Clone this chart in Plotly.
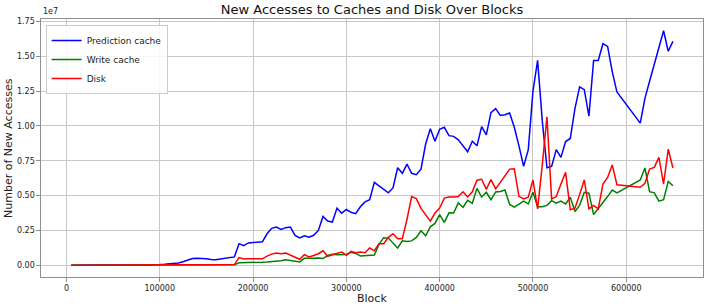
import plotly.graph_objects as go

# Block positions (5000-block steps; no samples between 590000 and 615000)
blocks = list(range(5000, 595000, 5000)) + list(range(615000, 655000, 5000))

# Values in units of 1e7 new accesses
prediction_cache = [
    0, 0, 0, 0, 0, 0, 0, 0, 0, 0,
    0, 0, 0, 0, 0, 0, 0, 0.002, 0.004, 0.005,
    0.007, 0.01, 0.012, 0.016, 0.025, 0.035, 0.048, 0.05, 0.05, 0.046,
    0.042, 0.04, 0.045, 0.05, 0.05, 0.06, 0.155, 0.14, 0.16, 0.162,
    0.165, 0.168, 0.226, 0.265, 0.274, 0.257, 0.27, 0.274, 0.214, 0.197,
    0.212, 0.202, 0.215, 0.25, 0.35, 0.317, 0.31, 0.41, 0.374, 0.40,
    0.38, 0.37, 0.42, 0.455, 0.47, 0.595, 0.57, 0.545, 0.52, 0.555,
    0.70, 0.66, 0.726, 0.66, 0.65, 0.69, 0.87, 0.98, 0.89, 0.976,
    0.99, 0.93, 0.925, 0.90, 0.857, 0.814, 0.89, 0.857, 0.995, 0.935,
    1.095, 1.124, 1.075, 1.08, 1.093, 0.99, 0.857, 0.71, 0.83, 1.25,
    1.47, 1.036, 0.70, 0.71, 0.83, 0.774, 0.888, 0.91, 1.124, 1.28,
    1.26, 1.07, 1.47, 1.47, 1.59, 1.57, 1.39, 1.243,
    1.02, 1.198, 1.32, 1.445, 1.56, 1.683, 1.536, 1.607,
]

write_cache = [
    0, 0, 0, 0, 0, 0, 0, 0, 0, 0,
    0, 0, 0, 0, 0, 0, 0, 0, 0, 0,
    0, 0, 0, 0, 0, 0, 0, 0, 0, 0,
    0, 0, 0, 0, 0, 0.003, 0.018, 0.018, 0.019, 0.019,
    0.02, 0.022, 0.024, 0.026, 0.029, 0.033, 0.04, 0.036, 0.03, 0.024,
    0.05, 0.048, 0.05, 0.052, 0.048, 0.07, 0.079, 0.076, 0.079, 0.078,
    0.093, 0.085, 0.067, 0.07, 0.071, 0.074, 0.15, 0.198, 0.195, 0.16,
    0.124, 0.175, 0.171, 0.175, 0.2, 0.248, 0.212, 0.276, 0.3, 0.364,
    0.308, 0.376, 0.375, 0.448, 0.415, 0.466, 0.445, 0.552, 0.49, 0.524,
    0.47, 0.526, 0.53, 0.54, 0.436, 0.417, 0.436, 0.46, 0.44, 0.524,
    0.42, 0.42, 0.43, 0.464, 0.445, 0.46, 0.44, 0.488, 0.386, 0.43,
    0.524, 0.517, 0.364, 0.405, 0.452, 0.493, 0.54, 0.52,
    0.612, 0.698, 0.528, 0.52, 0.46, 0.47, 0.602, 0.571,
]

disk = [
    0, 0, 0, 0, 0, 0, 0, 0, 0, 0,
    0, 0, 0, 0, 0, 0, 0, 0, 0, 0,
    0, 0, 0.002, 0.002, 0.002, 0.003, 0.003, 0.003, 0.003, 0.003,
    0.003, 0.003, 0.003, 0.003, 0.004, 0.005, 0.055, 0.045, 0.046, 0.047,
    0.047, 0.046, 0.066, 0.08, 0.088, 0.083, 0.088, 0.072, 0.06, 0.043,
    0.076, 0.06, 0.07, 0.083, 0.104, 0.064, 0.076, 0.083, 0.095, 0.072,
    0.1, 0.09, 0.095, 0.09, 0.124, 0.104, 0.155, 0.155, 0.2, 0.226,
    0.19, 0.19, 0.33, 0.493, 0.478, 0.408, 0.36, 0.316, 0.375, 0.41,
    0.482, 0.49, 0.49, 0.493, 0.527, 0.49, 0.527, 0.61, 0.617, 0.545,
    0.614, 0.548, 0.595, 0.643, 0.69, 0.693, 0.495, 0.476, 0.488, 0.612,
    0.405, 0.72, 1.065, 0.476, 0.493, 0.583, 0.667, 0.398, 0.41, 0.507,
    0.612, 0.405, 0.43, 0.405, 0.583, 0.63, 0.72, 0.578,
    0.56, 0.588, 0.69, 0.702, 0.774, 0.583, 0.833, 0.698,
]

series_names = ["Prediction cache", "Write cache", "Disk"]
series_colors = ["blue", "green", "red"]

x_ticks = [0, 100000, 200000, 300000, 400000, 500000, 600000]
y_ticks = [0, 0.25, 0.5, 0.75, 1.0, 1.25, 1.5, 1.75]

assert len(prediction_cache) == len(blocks) == len(write_cache) == len(disk)

FONT = "DejaVu Sans"
fig = go.Figure()
for name, vals, col in zip(series_names, [prediction_cache, write_cache, disk], series_colors):
    fig.add_trace(go.Scatter(x=blocks, y=vals, mode="lines", name=name,
                             line=dict(color=col, width=1.5)))

xmin, xmax = min(blocks), max(blocks)
ymax = max(max(prediction_cache), max(write_cache), max(disk))
xpad = (xmax - xmin) * 0.05
ypad = ymax * 0.05

axis_common = dict(showline=True, mirror=True, linecolor="#8f8f8f", linewidth=1.3,
                   showgrid=True, gridcolor="#c8c8c8", gridwidth=1, zeroline=False,
                   ticks="outside", ticklen=3.5, tickcolor="#8f8f8f", tickwidth=1,
                   tickfont=dict(family=FONT, size=8, color="#222222"))

fig.update_layout(
    width=706, height=308,
    margin=dict(l=41, r=3, t=19, b=31),
    plot_bgcolor="white", paper_bgcolor="white",
    font=dict(family=FONT, color="#222222"),
    title=dict(text="New Accesses to Caches and Disk Over Blocks",
               x=0.5, xref="paper", y=1 - 9 / 308, yref="container", yanchor="middle",
               font=dict(family=FONT, size=13, color="#111111")),
    xaxis=dict(range=[xmin - xpad, xmax + xpad], tickvals=x_ticks,
               ticktext=[str(v) for v in x_ticks], **axis_common),
    yaxis=dict(range=[-ypad, ymax + ypad], tickvals=y_ticks,
               ticktext=[f"{v:.2f}" for v in y_ticks], **axis_common),
    legend=dict(x=0.007, y=0.977, xanchor="left", yanchor="top",
                bgcolor="rgba(255,255,255,0.85)", bordercolor="#cccccc", borderwidth=1,
                font=dict(family=FONT, size=9, color="#222222"),
                itemwidth=30, tracegroupgap=0),
    showlegend=True,
    annotations=[
        dict(text="Block", xref="paper", yref="paper", x=0.5, y=-(298 - 277) / 258,
             xanchor="center", yanchor="middle", showarrow=False,
             font=dict(family=FONT, size=11, color="#222222")),
        dict(text="Number of New Accesses", xref="paper", yref="paper",
             x=(8 - 41) / 662, y=0.5, textangle=-90, xanchor="center", yanchor="middle",
             showarrow=False, font=dict(family=FONT, size=11, color="#222222")),
        dict(text="1e7", xref="paper", yref="paper", x=0, y=(277 - 12) / 258,
             xanchor="left", yanchor="middle", showarrow=False,
             font=dict(family=FONT, size=8, color="#222222")),
    ],
)

fig.write_html("out.html")
